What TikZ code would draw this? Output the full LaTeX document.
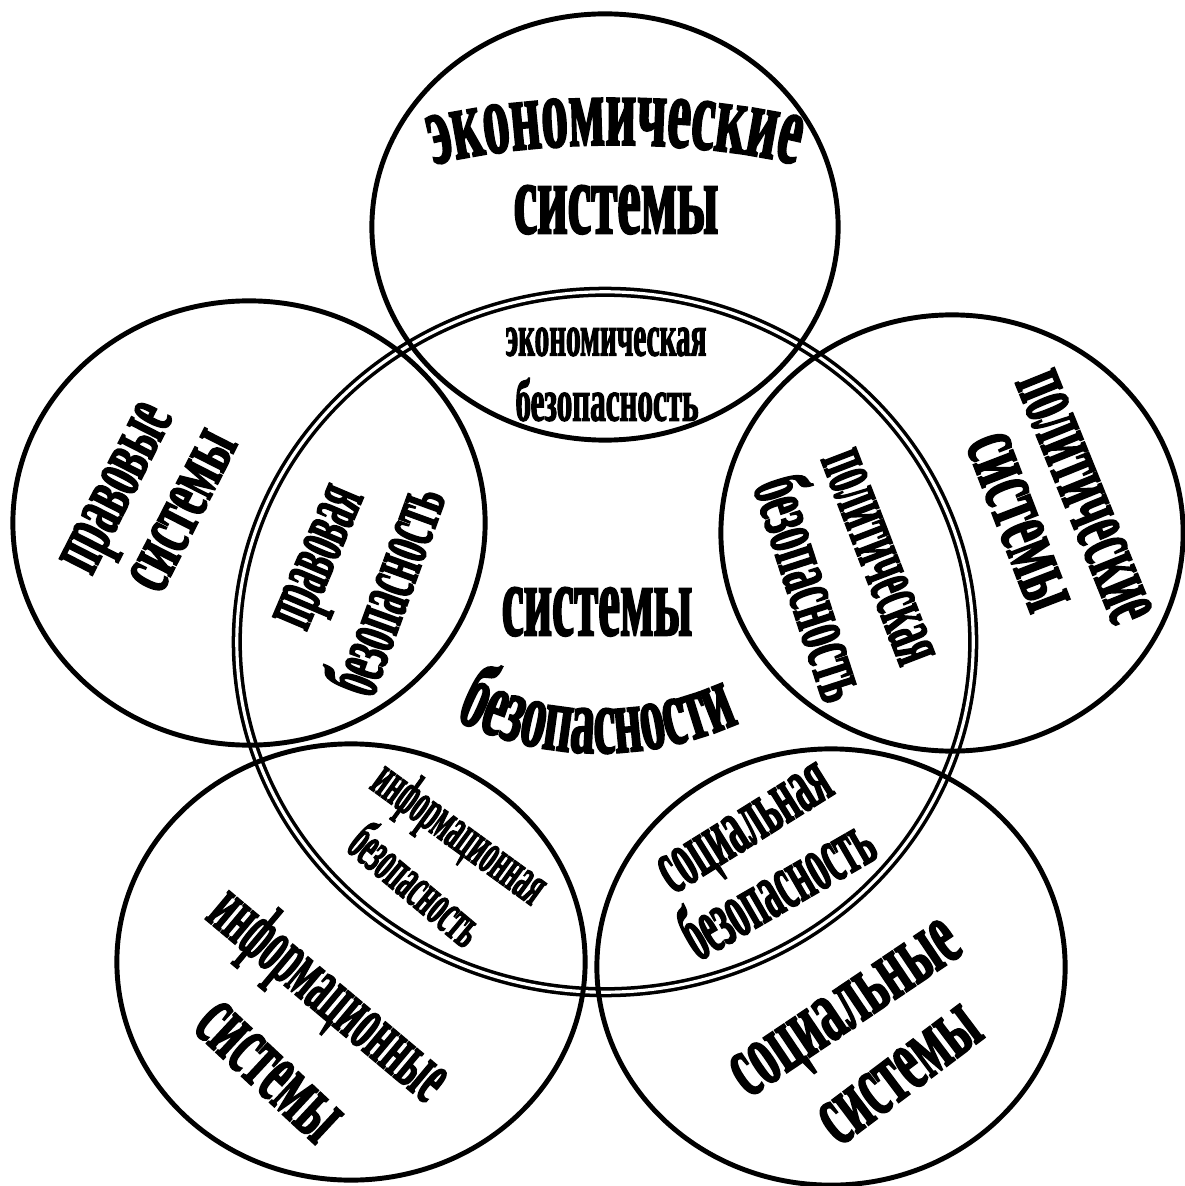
\documentclass[tikz,border=0pt]{standalone}
\usepackage{fontspec}
\usetikzlibrary{decorations.text}
\newfontfamily\wordfont{Liberation Serif}[FakeStretch=0.52,FakeBold=1.8]
\newcommand\bigfont{\wordfont\bfseries\fontsize{29}{32}\selectfont}
\newcommand\corefont{\wordfont\bfseries\fontsize{27}{30}\selectfont}

\tikzset{
  sys/.style={line width=1.4pt},
  core/.style={double, line width=1pt, double distance=0.9pt},
  word/.style={inner sep=0pt, text depth=0pt},
  big/.style={word, text height=13.3pt, font=\bigfont},
  large/.style={word, text height=12pt, font=\wordfont\bfseries\fontsize{26}{29}\selectfont},
  mid/.style={word, text height=10.6pt, font=\wordfont\bfseries\fontsize{23}{26}\selectfont},
  small/.style={word, text height=7.8pt, font=\wordfont\bfseries\fontsize{17}{20}\selectfont},
  arctext/.style={decorate, decoration={text along path, text align=center, text={#1}}},
}

\begin{document}
\begin{tikzpicture}[x=0.01cm,y=-0.01cm]
  \useasboundingbox (0,0) rectangle (1184,1186);
  % central ring
  \draw[core] (605,642) ellipse (3.68cm and 3.50cm);
  % outer systems
  \draw[sys] (605,227) ellipse (2.33cm and 2.13cm);
  \draw[sys] (249,523) ellipse (2.36cm and 2.22cm);
  \draw[sys] (952,533) ellipse (2.31cm and 2.18cm);
  \draw[sys] (351,962) ellipse (2.34cm and 2.18cm);
  \draw[sys] (831,967) ellipse (2.34cm and 2.18cm);

  \node[big, xscale=0.93] (core1) at (597,612) {системы};
  \path[arctext={|\corefont|безопасности}] (420,700) .. controls (530,770) and (660,770) .. (775,705);

  \path[arctext={|\bigfont|экономические}] (400,175) .. controls (510,135) and (720,135) .. (830,175);
  \node[big] (econ2) at (616,210) {системы};
  \node[small, xscale=0.94] (esec1) at (606,342) {экономическая};
  \node[small] (esec2) at (607,407) {безопасность};

  \node[mid, rotate=63, xscale=0.97] (law1) at (116,488) {правовые};
  \node[mid, rotate=63, xscale=1.05] (law2) at (183,511) {системы};
  \node[mid, rotate=67, xscale=0.83] (lsec1) at (318,557) {правовая};
  \node[mid, rotate=70, xscale=0.87] (lsec2) at (392,592) {безопасность};

  \node[large, rotate=-68, xscale=0.88] (pol1) at (1084,497) {политические};
  \node[large, rotate=-69] (pol2) at (1018,522) {системы};
  \node[mid, rotate=-69, xscale=0.84] (psec1) at (878,557) {политическая};
  \node[mid, rotate=-72, xscale=0.93] (psec2) at (806,590) {безопасность};

  \node[mid, rotate=-40, xscale=0.85] (inf1) at (327,997) {информационные};
  \node[large, rotate=-43, xscale=0.93] (inf2) at (268,1072) {системы};
  \node[small, rotate=-36, xscale=0.82] (isec1) at (458,836) {информационная};
  \node[small, rotate=-40, xscale=0.85] (isec2) at (413,889) {безопасность};

  \node[large, rotate=34] (soc1) at (845,1008) {социальные};
  \node[large, rotate=37] (soc2) at (900,1075) {системы};
  \node[mid, rotate=32, xscale=0.86] (ssec1) at (745,828) {социальная};
  \node[mid, rotate=30, xscale=0.85] (ssec2) at (780,893) {безопасность};
\end{tikzpicture}
\end{document}
